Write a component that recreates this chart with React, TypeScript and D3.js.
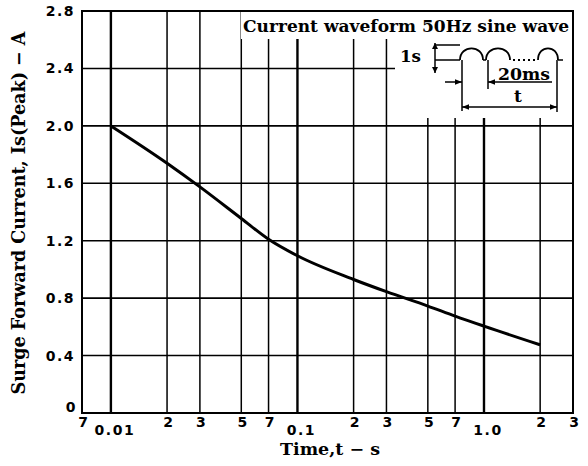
import React from "react";
import * as d3 from "d3";

// ---- data ----
const timeS = [0.01, 0.02, 0.03, 0.05, 0.07, 0.1, 0.2, 0.3, 0.5, 0.7, 1.0, 2.0];
const surgeA = [2.0, 1.74, 1.575, 1.355, 1.21, 1.095, 0.93, 0.845, 0.745, 0.675, 0.605, 0.475];
const xGrid = [0.01, 0.02, 0.03, 0.05, 0.07, 0.1, 0.2, 0.3, 0.5, 0.7, 1.0, 2.0];
const xMinorTicks = [0.007, 0.02, 0.03, 0.05, 0.07, 0.2, 0.3, 0.5, 0.7, 2, 3];
const xMinorLabels = ["7", "2", "3", "5", "7", "2", "3", "5", "7", "2", "3"];
const xDecadeTicks = [0.01, 0.1, 1.0];
const xDecadeLabels = ["0.01", "0.1", "1.0"];
const yTicks = [0, 0.4, 0.8, 1.2, 1.6, 2.0, 2.4, 2.8];
const yTickLabels = ["0", "0.4", "0.8", "1.2", "1.6", "2.0", "2.4", "2.8"];

const W = 588, H = 466;
const L = 82, R = 573, T = 11, B = 413;

export default function App() {
  const x = d3.scaleLog().domain([0.007, 3]).range([L, R]);
  const y = d3.scaleLinear().domain([0, 2.8]).range([B, T]);
  const line = d3
    .line<number>()
    .x((_, i) => x(timeS[i]))
    .y((d) => y(d))
    .curve(d3.curveMonotoneX);
  const tickFont = "'DejaVu Sans', sans-serif";
  const serif = "'DejaVu Serif', serif";

  // inset diagram origin
  const ox = 400, oy = 20;
  const hump = (x0: number, x1: number, base: number, top: number) => {
    const p = d3.path();
    p.moveTo(x0, base);
    p.bezierCurveTo(x0, top - (base - top) * 0.3, x1, top - (base - top) * 0.3, x1, base);
    return p.toString();
  };
  const base = oy + 40;

  return (
    <svg width={W} height={H} style={{ position: "absolute", left: 0, top: 0, background: "#fff" }}>
      <defs>
        <marker id="ah" viewBox="0 0 10 10" refX="10" refY="5" markerWidth="7" markerHeight="7" orient="auto-start-reverse" markerUnits="userSpaceOnUse">
          <path d="M0,1 L10,5 L0,9 z" fill="#000" />
        </marker>
      </defs>
      {/* horizontal grid */}
      {yTicks.slice(1, -1).map((v) => (
        <line key={"h" + v} x1={L} x2={R} y1={y(v)} y2={y(v)} stroke="#000" strokeWidth={1.6} />
      ))}
      {/* vertical grid */}
      {xGrid.map((v) => {
        const major = xDecadeTicks.includes(v);
        return (
          <line key={"v" + v} x1={x(v)} x2={x(v)} y1={T} y2={B} stroke="#000" strokeWidth={major ? 2.4 : 1.5} />
        );
      })}
      {/* white area for inset legend */}
      <rect x={241} y={T + 1} width={R - 242} height={27} fill="#fff" />
      <rect x={395} y={T + 1} width={R - 396} height={106} fill="#fff" />
      {/* frame */}
      <rect x={L} y={T} width={R - L} height={B - T} fill="none" stroke="#000" strokeWidth={2} />

      {/* curve */}
      <path d={line(surgeA) || ""} fill="none" stroke="#000" strokeWidth={3} />

      {/* y tick labels */}
      {yTicks.map((v, i) => (
        <text key={"yl" + v} x={v === 0 ? 77 : 75} y={y(v) + (v === 0 ? -1 : 5)} textAnchor="end" fontFamily={tickFont} fontWeight="bold" fontSize={14} letterSpacing={1.5}>
          {yTickLabels[i]}
        </text>
      ))}
      {/* x tick labels */}
      {xMinorTicks.map((v, i) => (
        <text key={"xm" + i} x={x(v) + 1} y={427} textAnchor="middle" fontFamily={tickFont} fontWeight="bold" fontSize={14}>
          {xMinorLabels[i]}
        </text>
      ))}
      {xDecadeTicks.map((v, i) => (
        <text key={"xd" + v} x={x(v) + 4} y={435} textAnchor="middle" fontFamily={tickFont} fontWeight="bold" fontSize={14} letterSpacing={1.5}>
          {xDecadeLabels[i]}
        </text>
      ))}

      {/* axis titles */}
      <text x={330} y={455} textAnchor="middle" fontFamily={serif} fontWeight="bold" fontSize={17} textLength={100} lengthAdjust="spacingAndGlyphs">
        Time,t − s
      </text>
      <text transform="translate(25,213) rotate(-90)" textAnchor="middle" fontFamily={serif} fontWeight="bold" fontSize={18} textLength={363} lengthAdjust="spacingAndGlyphs">
        Surge Forward Current, Is(Peak) − A
      </text>

      {/* inset legend */}
      <text x={406} y={32} textAnchor="middle" fontFamily={serif} fontWeight="bold" fontSize={17} textLength={326} lengthAdjust="spacingAndGlyphs">
        Current waveform 50Hz sine wave
      </text>
      <text x={400} y={62} fontFamily={serif} fontWeight="bold" fontSize={17} textLength={21} lengthAdjust="spacingAndGlyphs">1s</text>
      {/* amplitude arrow */}
      <line x1={435} x2={435} y1={oy + 23} y2={oy + 53} stroke="#000" strokeWidth={1.5} />
      <path d={`M432,${oy + 29} L435,${oy + 23} L438,${oy + 29} z`} fill="#000" />
      <path d={`M432,${oy + 47} L435,${oy + 53} L438,${oy + 47} z`} fill="#000" />
      <line x1={435} x2={460} y1={oy + 25} y2={oy + 25} stroke="#000" strokeWidth={1.5} />
      <line x1={435} x2={460} y1={base} y2={base} stroke="#000" strokeWidth={1.5} />
      {/* humps */}
      <path d={hump(460, 483, base, oy + 28)} fill="none" stroke="#000" strokeWidth={1.8} />
      <path d={hump(486, 510, base, oy + 28)} fill="none" stroke="#000" strokeWidth={1.8} />
      <path d={hump(538, 558, base, oy + 28)} fill="none" stroke="#000" strokeWidth={1.8} />
      <line x1={483} x2={486} y1={base} y2={base} stroke="#000" strokeWidth={1.5} />
      <line x1={513} x2={536} y1={base} y2={base} stroke="#000" strokeWidth={1.8} strokeDasharray="2,3" />
      <line x1={558} x2={563} y1={base} y2={base} stroke="#000" strokeWidth={1.5} />
      {/* dimension lines */}
      <line x1={462} x2={462} y1={base} y2={oy + 91} stroke="#000" strokeWidth={1.5} />
      <line x1={488} x2={488} y1={base} y2={oy + 69} stroke="#000" strokeWidth={1.5} />
      <line x1={557} x2={557} y1={base} y2={oy + 92} stroke="#000" strokeWidth={1.5} />
      <line x1={445} x2={462} y1={oy + 62} y2={oy + 62} stroke="#000" strokeWidth={1.5} markerEnd="url(#ah)" />
      <line x1={552} x2={488} y1={oy + 62} y2={oy + 62} stroke="#000" strokeWidth={1.5} markerEnd="url(#ah)" />
      <text x={524} y={oy + 60} textAnchor="middle" fontFamily={serif} fontWeight="bold" fontSize={16} textLength={52} lengthAdjust="spacingAndGlyphs">20ms</text>
      <line x1={462} x2={557} y1={oy + 87} y2={oy + 87} stroke="#000" strokeWidth={1.5} markerStart="url(#ah)" markerEnd="url(#ah)" />
      <text x={518} y={oy + 82} textAnchor="middle" fontFamily={serif} fontWeight="bold" fontSize={17}>t</text>
    </svg>
  );
}
